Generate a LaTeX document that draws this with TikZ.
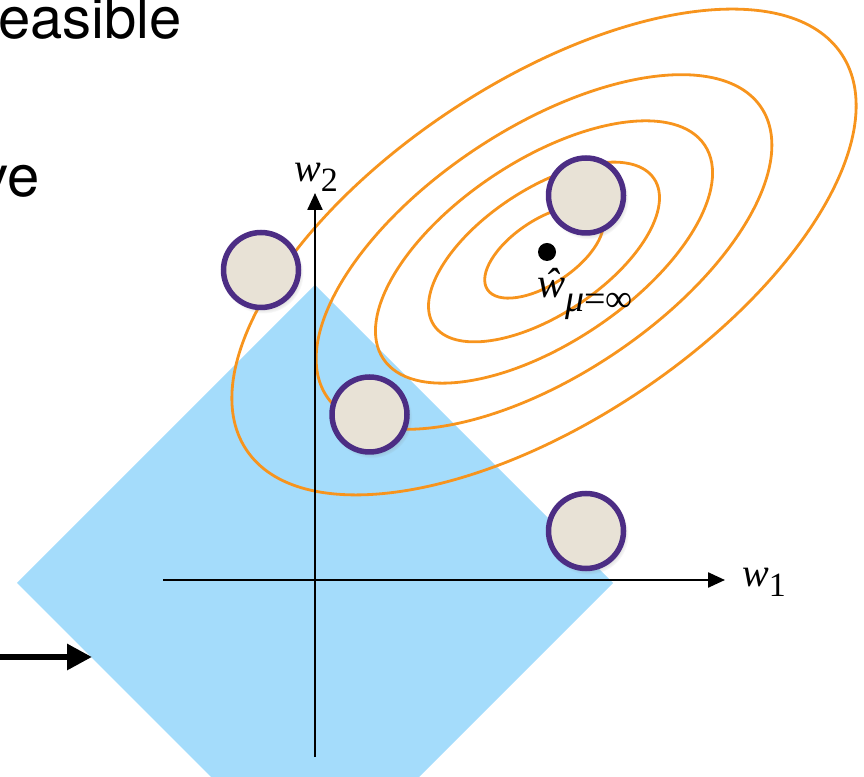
\documentclass[tikz,border=0pt]{standalone}
\usepackage{fontspec}
\setmainfont{TeX Gyre Heros}
\newfontfamily\labelfont{Liberation Serif}
\usetikzlibrary{arrows.meta,shadows,fadings}

\definecolor{feasblue}{RGB}{164,220,251}
\definecolor{contour}{RGB}{247,148,29}
\definecolor{candfill}{RGB}{232,226,214}
\definecolor{candedge}{RGB}{76,45,132}

\newcommand{\axlabel}[1]{\labelfont\fontsize{40}{40}\selectfont\textit{w}\raisebox{-10pt}{\fontsize{34}{34}\selectfont #1}}

\begin{document}
\begin{tikzpicture}[x=1pt, y=1pt,
  level/.style={contour, line width=2.8pt},
  cand/.style={circle, draw=candedge, fill=candfill, line width=5.5pt,
    minimum size=75pt, inner sep=0pt,
    circular drop shadow={shadow xshift=2pt, shadow yshift=-3pt, shadow scale=1.08, opacity=0.3}},
  axis/.style={line width=2.4pt, -{Triangle[length=17pt,width=15pt]}}]

  \useasboundingbox (0,0) rectangle (864,776);
  \clip (0,0) rectangle (864,776);

  % Feasible region
  \fill[feasblue] (17,193) -- (315,491) -- (613,193) -- (315,-105) -- cycle;

  % Level sets
  \foreach \s in {1, 0.73, 0.54, 0.37, 0.19}
    \draw[level, rotate around={33.6:(544,524)}] (544,524) ellipse [x radius=357.4*\s, y radius=169.3*\s];

  % Axes
  \coordinate (xmin) at (163,196);
  \coordinate (xmax) at (725,196);
  \coordinate (ymin) at (315,19);
  \coordinate (ymax) at (315,583);
  \draw[axis] (xmin) -- (xmax);
  \draw[axis] (ymin) -- (ymax);
  \node[anchor=base west, inner sep=0pt] (lw1) at (742,189) {\axlabel{1}};
  \node[anchor=base west, inner sep=0pt] (lw2) at (294,594) {\axlabel{2}};

  % Candidate points
  \node[cand] (c1) at (586,580.5) {};
  \node[cand] (c2) at (261,506) {};
  \node[cand] (c3) at (369.5,361.5) {};
  \node[cand] (c4) at (586,245) {};

  % Unconstrained optimum
  \fill (547,524) circle (9);
  \node[anchor=base west, inner sep=0pt] (lwhat) at (537,478)
    {\labelfont\fontsize{42}{42}\selectfont\textit{ŵ}\raisebox{-14pt}{\fontsize{38}{38}\selectfont\textit{μ}=∞}};

  % Text cut at the left edge
  \node[anchor=base east, inner sep=0pt, font=\fontsize{58}{58}\selectfont] (ltop) at (182,737) {easible};
  \node[anchor=base east, inner sep=0pt, font=\fontsize{58}{58}\selectfont] (lve) at (40,579) {ve};

  % Pointer arrow
  \coordinate (ain) at (0,119);
  \coordinate (aout) at (92,119);
  \draw[line width=6pt, -{Triangle[length=25pt,width=25pt]}] (ain) -- (aout);

\end{tikzpicture}
\end{document}
